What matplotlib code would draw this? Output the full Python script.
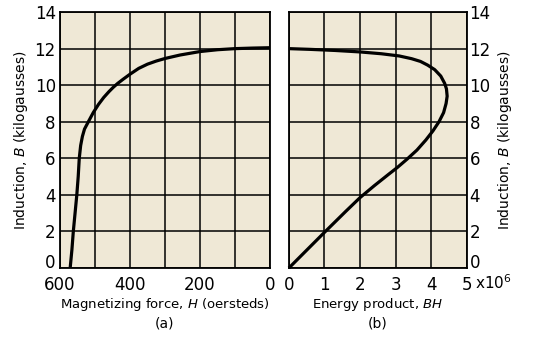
import matplotlib

matplotlib.use("Agg")

import matplotlib.pyplot as plt

# demagnetization curve (a): H in oersteds, B in kilogausses
H_a = [571, 566, 562, 557, 552, 548, 545, 541, 536, 530, 519, 505, 490, 475, 460, 448, 435,
       420, 400, 375, 350, 325, 300, 257, 200, 150, 100, 50, 0]
B_a = [0.0, 1.0, 2.0, 3.0, 4.0, 5.0, 6.0, 6.7, 7.2, 7.6, 8.0, 8.5, 8.95, 9.33, 9.65, 9.88, 10.1,
       10.32, 10.6, 10.92, 11.15, 11.32, 11.46, 11.65, 11.84, 11.94, 12.0, 12.03, 12.05]

# energy product curve (b): BH in units of 1e6, B in kilogausses
BH_b = [0.0, 1.0, 1.6, 2.0, 2.4, 2.8, 3.05, 3.32, 3.6, 3.85, 4.05, 4.22, 4.35, 4.42, 4.45, 4.43,
        4.38, 4.27, 4.1, 3.9, 3.7, 3.45, 3.1, 2.6, 2.0, 1.3, 0.6, 0.0]
B_b = [0.0, 1.95, 3.1, 3.85, 4.5, 5.12, 5.5, 5.95, 6.45, 7.0, 7.5, 8.0, 8.5, 9.0, 9.4, 9.8,
       10.1, 10.5, 10.85, 11.1, 11.3, 11.45, 11.6, 11.72, 11.82, 11.9, 11.96, 12.0]

y_ticks = [0, 2, 4, 6, 8, 10, 12, 14]
h_ticks = [600, 500, 400, 300, 200, 100, 0]
h_labels = ["600", "", "400", "", "200", "", "0"]
bh_ticks = [0, 1, 2, 3, 4, 5]

bg = "#efe8d6"
plt.rcParams["font.family"] = ["DejaVu Sans"]

fig = plt.figure(figsize=(5.34, 3.53), dpi=100)
ax1 = fig.add_axes([0.1124, 0.2408, 0.393, 0.725])
ax2 = fig.add_axes([0.541, 0.2408, 0.333, 0.725])

for ax in (ax1, ax2):
    ax.set_facecolor(bg)
    ax.set_ylim(0, 14)
    ax.set_yticks(y_ticks)
    ax.grid(True, color="black", linewidth=1.1)
    ax.tick_params(length=0, labelsize=12)
    ax.tick_params(axis="x", pad=6)
    for s in ax.spines.values():
        s.set_linewidth(1.3)

# panel (a)
ax1.set_xlim(600, 0)
ax1.set_xticks(h_ticks)
ax1.set_xticklabels(h_labels)
ax1.tick_params(axis="y", pad=3)
ax1.plot(H_a, B_a, color="black", linewidth=2.3, clip_on=False, solid_capstyle="butt")
ax1.set_ylabel("Induction, $\\it{B}$ (kilogausses)", fontsize=10, labelpad=3)
ax1.set_xlabel("Magnetizing force, $\\it{H}$ (oersteds)", fontsize=9.5, labelpad=1)
ax1.text(0.5, -0.19, "(a)", transform=ax1.transAxes, ha="center", va="top", fontsize=10)

# panel (b)
ax2.set_xlim(0, 5)
ax2.set_xticks(bh_ticks)
ax2.yaxis.tick_right()
ax2.yaxis.set_label_position("right")
ax2.tick_params(axis="y", pad=2)
ax2.plot(BH_b, B_b, color="black", linewidth=2.3, clip_on=False, solid_capstyle="butt")
ax2.set_ylabel("Induction, $\\it{B}$ (kilogausses)", fontsize=10, labelpad=4)
ax2.set_xlabel("Energy product, $\\it{BH}$", fontsize=9.5, labelpad=1)
ax2.annotate("x10$^6$", xy=(1, 0), xycoords="axes fraction", xytext=(6, -4),
             textcoords="offset points", ha="left", va="top", fontsize=11)
ax2.text(0.5, -0.19, "(b)", transform=ax2.transAxes, ha="center", va="top", fontsize=10)

# the bottom "0" sits just above the lowest gridline, as in the original
fig.canvas.draw()
for ax in (ax1, ax2):
    ax.get_yticklabels()[0].set_va("baseline")

fig.savefig("out.png", dpi=100)
